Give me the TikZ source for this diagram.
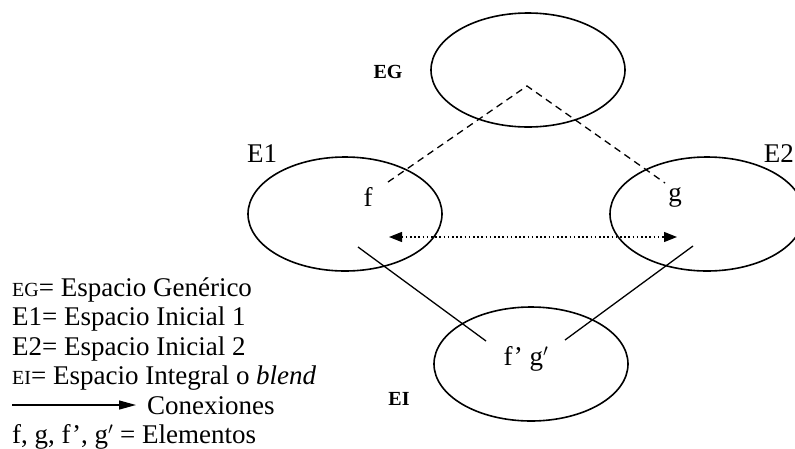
\documentclass[tikz,border=0pt]{standalone}
\usepackage{fontspec}
\setmainfont{Liberation Serif}
\usetikzlibrary{arrows.meta,shapes.geometric}
% capitals set at reduced size, standing in for small capitals
\newcommand{\capsmall}[1]{{\fontsize{20}{24}\selectfont #1}}
\begin{document}
\begin{tikzpicture}[x=1pt,y=-1pt,
  space/.style={draw, line width=1.6pt, ellipse, minimum width=194pt, minimum height=114pt, inner sep=0pt},
  spacename/.style={font=\fontsize{27}{30}\selectfont, inner sep=0pt},
  tagname/.style={font=\fontsize{20}{22}\selectfont\bfseries, inner sep=0pt},
  element/.style={font=\fontsize{27}{30}\selectfont, inner sep=0pt},
  legendline/.style={font=\fontsize{27}{30}\selectfont, anchor=base west, inner sep=0pt},
  mapping/.style={line width=1.3pt, dash pattern=on 7pt off 5pt},
  link/.style={line width=1.3pt},
  counterpart/.style={line width=1.3pt, dash pattern=on 1.6pt off 2.6pt,
    {Triangle[length=13pt,width=10pt]}-{Triangle[length=13pt,width=10pt]}}]
\useasboundingbox (0,0) rectangle (795,448);

% mental spaces
\node[space] (eg) at (528,70) {};
\node[space] (e1) at (345,214) {};
\node[space] (e2) at (707,214) {};
\node[space] (ei) at (531,364) {};

% space labels
\node[tagname] (egname) at (388,72) {EG};
\node[spacename] (e1name) at (262,154) {E1};
\node[spacename, anchor=east] (e2name) at (794,154) {E2};
\node[tagname] (einame) at (399,399) {EI};

% elements
\node[element] (f) at (368,197) {f};
\node[element] (g) at (675,197) {g};
\node[element] (fg) at (526,359) {f\textquoteright\ g$'$};

% connector ends
\coordinate (fa) at (388,182);
\coordinate (apex) at (527,86);
\coordinate (ga) at (665,183);
\coordinate (fl) at (389,237);
\coordinate (gl) at (677,237);
\coordinate (fs) at (358,247);
\coordinate (fe) at (486,341);
\coordinate (gs) at (693,246);
\coordinate (ge) at (565,340);

\draw[mapping] (fa) -- (apex) -- (ga);
\draw[counterpart] (fl) -- (gl);
\draw[link] (fs) -- (fe);
\draw[link] (gs) -- (ge);

% legend
\node[legendline] (l1) at (12,296) {\capsmall{EG}= Espacio Genérico};
\node[legendline] (l2) at (12,325.5) {E1= Espacio Inicial 1};
\node[legendline] (l3) at (12,355) {E2= Espacio Inicial 2};
\node[legendline] (l4) at (12,384.5) {\capsmall{EI}= Espacio Integral o \textit{blend}};
\coordinate (arrs) at (12,405);
\coordinate (arre) at (136,405);
\draw[link, -{Triangle[length=17pt,width=9pt]}] (arrs) -- (arre);
\node[legendline] (l5) at (147,414) {Conexiones};
\node[legendline] (l6) at (12,443.5) {f, g, f\textquoteright, g$'$ = Elementos};
\end{tikzpicture}
\end{document}
